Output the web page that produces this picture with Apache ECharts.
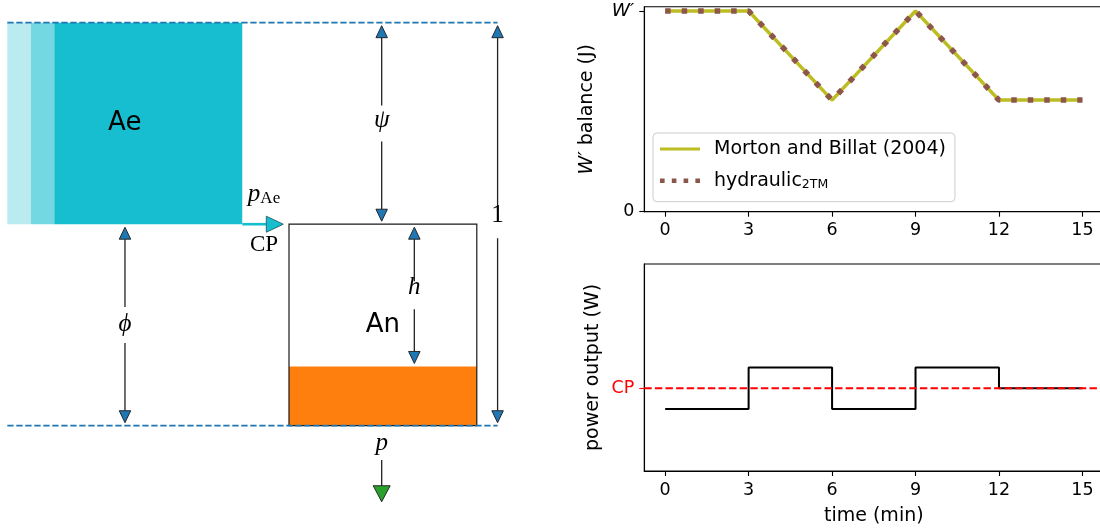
<!DOCTYPE html>
<html>
<head>
<meta charset="utf-8">
<script src="https://cdn.jsdelivr.net/npm/echarts@6/dist/echarts.min.js"></script>
<style>
  html, body { margin: 0; padding: 0; background: #fff; }
  #chart { width: 1100px; height: 530px; }
</style>
</head>
<body>
<div id="chart"></div>
<script>
// ---------- Right panels: exercise protocol over time ----------
const timeMin = [0, 3, 6, 9, 12, 15];
const timeTicks = [0, 3, 6, 9, 12, 15];
// W' balance as a fraction of W'
const wBalMorton = [1, 1, 0.556, 1, 0.556, 0.556];
const wBalHydraulic = [1, 1, 0.556, 1, 0.556, 0.556];
// power output held over each interval, relative to CP
const powerRel = [0.9, 1.1, 0.9, 1.1, 1.0, 1.0];
const cpLevel = 1.0;
const seriesNames = ['Morton and Billat (2004)', 'hydraulic2TM'];

// ---------- Left panel: two-tank hydraulic schematic (height units, 1 = full) ----------
const aeBands = [[0, 0.5, 0.0588, 1], [0.0588, 0.5, 0.1166, 1], [0.1166, 0.5, 0.583, 1]];
const anTank = [[0.699, 0, 1.165, 0.5]];
const anFluid = [[0.699, 0, 1.165, 0.147]];
const refLines = [[0, 1, 1.2166, 1], [0, 0, 1.2166, 0]];
const flowArrow = [[0.583, 0.5, 0.699, 0.5]];
// [x, label y, end y]
const dimArrows = [
  [0.929, 0.75, 1], [0.929, 0.75, 0.5],
  [0.292, 0.25, 0.5], [0.292, 0.25, 0],
  [1.010, 0.3235, 0.5], [1.010, 0.3235, 0.147],
  [1.2166, 0.5, 1], [1.2166, 0.5, 0]
];
const outArrow = [[0.929, -0.043, -0.196]];
// [x, y] anchors for the schematic labels
const labelPos = [
  [0.2915, 0.75], [0.932, 0.25], [0.929, 0.75], [0.292, 0.25],
  [1.010, 0.3235], [1.2166, 0.5], [0.929, -0.043], [0.637, 0.448], [0.637, 0.5745]
];
const labelText = ['Ae', 'An', 'ψ', 'ϕ', 'h', '1', 'p', 'CP', '{p|p}{s|Ae}'];

// ---------- styling ----------
const SANS = 'DejaVu Sans';
const SERIF = "'Liberation Serif', 'DejaVu Serif', serif";
const TICK_FS = 17.5;
const NAME_FS = 19;
const aeOpacity = [0.3, 0.6, 1];
const dimGap = [18, 18, 18, 18, 14, 14, 14, 14];
const labelStyle = [
  { font: '26px ' + SANS },
  { font: '26px ' + SANS },
  { font: 'italic 25px ' + SERIF, dy: -3 },
  { font: 'italic 25px ' + SERIF, dy: -1 },
  { font: 'italic 25px ' + SERIF, dy: -8 },
  { font: '25px ' + SERIF, dy: -9 },
  { font: 'italic 25px ' + SERIF, dy: 0 },
  { font: '23px ' + SERIF },
  { font: 'italic 25px ' + SERIF }
];
// legend glyphs: a solid stroke and a row of square dots
const iconSolid = 'path://M0,0h40v3h-40z';
const iconDotted = 'path://M0,0h4.5v4.5h-4.5zM11.5,0h4.5v4.5h-4.5zM23,0h4.5v4.5h-4.5zM34.5,0h4.5v4.5h-4.5z';

function rectItem(params, api, style) {
  const a = api.coord([api.value(0), api.value(1)]);
  const b = api.coord([api.value(2), api.value(3)]);
  return {
    type: 'rect',
    shape: { x: Math.min(a[0], b[0]), y: Math.min(a[1], b[1]),
             width: Math.abs(b[0] - a[0]), height: Math.abs(b[1] - a[1]) },
    style: style
  };
}

function arrowItem(api, from, to, o) {
  const a = api.coord(from), b = api.coord(to);
  const dx = b[0] - a[0], dy = b[1] - a[1];
  const len = Math.hypot(dx, dy);
  const ux = dx / len, uy = dy / len, px = -uy, py = ux;
  const s = [a[0] + ux * o.gap, a[1] + uy * o.gap];
  const tip = [b[0] - ux * o.shrink, b[1] - uy * o.shrink];
  const base = [tip[0] - ux * o.headLen, tip[1] - uy * o.headLen];
  const hw = o.headW / 2;
  return {
    type: 'group',
    children: [
      { type: 'line', shape: { x1: s[0], y1: s[1], x2: base[0], y2: base[1] },
        style: { stroke: o.lineColor, lineWidth: o.lineWidth } },
      { type: 'polygon',
        shape: { points: [tip, [base[0] + px * hw, base[1] + py * hw], [base[0] - px * hw, base[1] - py * hw]] },
        style: { fill: o.headColor, stroke: o.edge, lineWidth: 0.9 } }
    ]
  };
}

const schem = { coordinateSystem: 'cartesian2d', xAxisIndex: 0, yAxisIndex: 0, silent: true, animation: false, clip: false };

const axisLineStyle = { show: true, onZero: false, lineStyle: { color: '#000', width: 1.1 } };

const option = {
  animation: false,
  backgroundColor: '#fff',
  grid: [
    { left: 7.3, top: 22.7, width: 523.9, height: 507.8, show: false, outerBoundsMode: 'none', containLabel: false },
    { left: 644.3, top: 6.7, width: 459, height: 205, show: true, borderColor: '#000', borderWidth: 1.1,
      backgroundColor: 'transparent', outerBoundsMode: 'none', containLabel: false },
    { left: 644.3, top: 264, width: 459, height: 207, show: true, borderColor: '#000', borderWidth: 1.1,
      backgroundColor: 'transparent', outerBoundsMode: 'none', containLabel: false }
  ],
  xAxis: [
    { type: 'value', gridIndex: 0, min: 0, max: 1.3, show: false },
    { type: 'value', gridIndex: 1, min: -0.75, max: 15.75,
      axisLine: axisLineStyle,
      axisTick: { show: true, length: 5, customValues: timeTicks, lineStyle: { color: '#000', width: 1.1 } },
      axisLabel: { customValues: timeTicks, margin: 10, color: '#000', fontSize: TICK_FS, fontFamily: SANS, hideOverlap: false },
      splitLine: { show: false } },
    { type: 'value', gridIndex: 2, min: -0.75, max: 15.75,
      name: 'time (min)', nameLocation: 'middle', nameGap: 36,
      nameTextStyle: { color: '#000', fontSize: NAME_FS, fontFamily: SANS },
      axisLine: axisLineStyle,
      axisTick: { show: true, length: 5, customValues: timeTicks, lineStyle: { color: '#000', width: 1.1 } },
      axisLabel: { customValues: timeTicks, margin: 10, color: '#000', fontSize: TICK_FS, fontFamily: SANS, hideOverlap: false },
      splitLine: { show: false } }
  ],
  yAxis: [
    { type: 'value', gridIndex: 0, min: -0.26, max: 1, show: false },
    { type: 'value', gridIndex: 1, min: 0, max: 1.0214,
      name: '{i|W′} balance (J)', nameLocation: 'middle', nameRotate: 90, nameGap: 48,
      nameTextStyle: { color: '#000', fontSize: NAME_FS, fontFamily: SANS,
        rich: { i: { fontStyle: 'italic', fontSize: NAME_FS, fontFamily: SANS, color: '#000' } } },
      axisLine: axisLineStyle,
      axisTick: { show: true, length: 5, customValues: [0, 1], lineStyle: { color: '#000', width: 1.1 } },
      axisLabel: { customValues: [0, 1], margin: 10, color: '#000', fontSize: TICK_FS, fontFamily: SANS,
        formatter: v => (v === 1 ? '{i|W′}' : '0'),
        rich: { i: { fontStyle: 'italic', fontSize: 18.5, fontFamily: SANS, color: '#000' } } },
      splitLine: { show: false } },
    { type: 'value', gridIndex: 2, min: 0.6, max: 1.6,
      name: 'power output (W)', nameLocation: 'middle', nameRotate: 90, nameGap: 41.5,
      nameTextStyle: { color: '#000', fontSize: NAME_FS, fontFamily: SANS },
      axisLine: axisLineStyle,
      axisTick: { show: true, length: 5, customValues: [cpLevel], lineStyle: { color: '#ff0000', width: 1.1 } },
      axisLabel: { customValues: [cpLevel], margin: 10, color: '#ff0000', fontSize: TICK_FS, fontFamily: SANS,
        formatter: () => 'CP' },
      splitLine: { show: false } }
  ],
  legend: {
    left: 653, top: 133, orient: 'vertical',
    padding: [5, 9, 10, 7], itemGap: 9.7, itemWidth: 40, itemHeight: 14, symbolKeepAspect: true,
    borderColor: '#cccccc', borderWidth: 1, borderRadius: 4, backgroundColor: 'rgba(255,255,255,0.8)',
    textStyle: { color: '#000', fontSize: NAME_FS, fontFamily: SANS, lineHeight: 22,
      rich: { g: { width: 9 },
              n: { fontSize: NAME_FS, fontFamily: SANS, color: '#000', lineHeight: 22 },
              s: { fontSize: 12.5, fontFamily: SANS, color: '#000', lineHeight: 12, verticalAlign: 'bottom' } } },
    formatter: name => (name === 'hydraulic2TM' ? '{g|}{n|hydraulic}{s|2TM}' : '{g|}{n|' + name + '}'),
    data: [
      { name: seriesNames[0], icon: iconSolid, itemStyle: { color: '#bcbd22' } },
      { name: seriesNames[1], icon: iconDotted, itemStyle: { color: '#8c564b' } }
    ],
    selectedMode: false
  },
  series: [
    // Ae tank, shaded bands
    Object.assign({ type: 'custom', data: aeBands,
      renderItem: (p, api) => rectItem(p, api, { fill: '#17becf', opacity: aeOpacity[p.dataIndex], stroke: null }) }, schem),
    // An fluid
    Object.assign({ type: 'custom', data: anFluid,
      renderItem: (p, api) => rectItem(p, api, { fill: '#ff7f0e', stroke: null }) }, schem),
    // An tank outline
    Object.assign({ type: 'custom', data: anTank,
      renderItem: (p, api) => rectItem(p, api, { fill: null, stroke: '#1a1a1a', lineWidth: 1.2 }) }, schem),
    // reference levels
    Object.assign({ type: 'custom', data: refLines,
      renderItem: (p, api) => {
        const a = api.coord([api.value(0), api.value(1)]);
        const b = api.coord([api.value(2), api.value(3)]);
        return { type: 'line', shape: { x1: a[0], y1: a[1], x2: b[0], y2: b[1] },
          style: { stroke: '#1f77b4', lineWidth: 1.7, lineDash: [6.3, 2.7] } };
      } }, schem),
    // flow from Ae into An
    Object.assign({ type: 'custom', data: flowArrow,
      renderItem: (p, api) => arrowItem(api, [api.value(0), api.value(1)], [api.value(2), api.value(3)],
        { gap: 0, shrink: 5.7, headLen: 17, headW: 16, lineColor: '#17becf', lineWidth: 2.6,
          headColor: '#17becf', edge: '#1f5f66' }) }, schem),
    // dimension arrows
    Object.assign({ type: 'custom', data: dimArrows,
      renderItem: (p, api) => arrowItem(api, [api.value(0), api.value(1)], [api.value(0), api.value(2)],
        { gap: dimGap[p.dataIndex], shrink: 3, headLen: 12, headW: 11.5, lineColor: '#222', lineWidth: 1.3,
          headColor: '#1f77b4', edge: '#1a1a1a' }) }, schem),
    // outflow p
    Object.assign({ type: 'custom', data: outArrow,
      renderItem: (p, api) => arrowItem(api, [api.value(0), api.value(1)], [api.value(0), api.value(2)],
        { gap: 17, shrink: 3, headLen: 16, headW: 17, lineColor: '#222', lineWidth: 1.3,
          headColor: '#2ca02c', edge: '#1a1a1a' }) }, schem),
    // schematic labels
    Object.assign({ type: 'custom', data: labelPos,
      renderItem: (p, api) => {
        const c = api.coord([api.value(0), api.value(1)]);
        const st = labelStyle[p.dataIndex];
        return { type: 'text', x: c[0], y: c[1] + (st.dy || 0),
          style: { text: labelText[p.dataIndex], font: st.font, fill: '#000', align: 'center', verticalAlign: 'middle',
            rich: { p: { fontStyle: 'italic', fontSize: 25, fontFamily: SERIF, fill: '#000', lineHeight: 26 },
                    s: { fontSize: 17, fontFamily: SERIF, fill: '#000', lineHeight: 14, verticalAlign: 'bottom' } } } };
      } }, schem),

    // W' balance
    { name: seriesNames[0], type: 'line', xAxisIndex: 1, yAxisIndex: 1,
      data: timeMin.map((t, i) => [t, wBalMorton[i]]), symbol: 'none',
      lineStyle: { color: '#bcbd22', width: 3.5 }, itemStyle: { color: '#bcbd22' } },
    { name: seriesNames[1], type: 'line', xAxisIndex: 1, yAxisIndex: 1,
      data: timeMin.map((t, i) => [t, wBalHydraulic[i]]), symbol: 'none',
      lineStyle: { color: '#8c564b', width: 5.5, type: [5.5, 11], cap: 'butt' }, itemStyle: { color: '#8c564b' } },

    // power output protocol
    { name: 'power', type: 'line', xAxisIndex: 2, yAxisIndex: 2, step: 'end',
      data: timeMin.map((t, i) => [t, powerRel[i]]), symbol: 'none',
      lineStyle: { color: '#000', width: 2 } },
    { name: 'CP', type: 'line', xAxisIndex: 2, yAxisIndex: 2,
      data: [[-0.75, cpLevel], [15.75, cpLevel]], symbol: 'none',
      lineStyle: { color: '#ff0000', width: 2, type: [7.4, 3.2] } }
  ]
};

const chart = echarts.init(document.getElementById('chart'), null, { renderer: 'canvas' });
chart.setOption(option);
</script>
</body>
</html>
